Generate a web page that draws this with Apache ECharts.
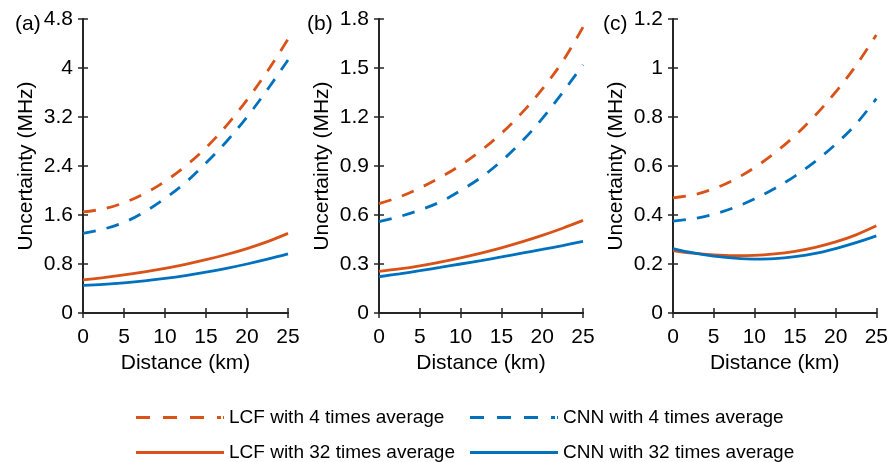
<!DOCTYPE html>
<html>
<head>
<meta charset="utf-8">
<script src="https://cdn.jsdelivr.net/npm/echarts@6/dist/echarts.min.js"></script>
<style>
html,body{margin:0;padding:0;background:#fff;}
#chart{width:891px;height:462px;}
</style>
</head>
<body>
<div id="chart"></div>
<script>
// ---- data ----
const distance = [0, 2.5, 5, 7.5, 10, 12.5, 15, 17.5, 20, 22.5, 25];

const panelLabels = ['(a)', '(b)', '(c)'];
const yMax = [4.8, 1.8, 1.2];
const yStep = [0.8, 0.3, 0.2];
const xTicks = [0, 5, 10, 15, 20, 25];

const seriesNames = ['LCF with 4 times average', 'CNN with 4 times average', 'LCF with 32 times average', 'CNN with 32 times average'];

// panel (a)
const lcf4A  = [1.65, 1.70, 1.80, 1.95, 2.15, 2.40, 2.70, 3.06, 3.48, 3.95, 4.47];
const cnn4A  = [1.30, 1.37, 1.48, 1.65, 1.87, 2.13, 2.45, 2.80, 3.20, 3.65, 4.13];
const lcf32A = [0.54, 0.578, 0.621, 0.671, 0.729, 0.795, 0.87, 0.955, 1.052, 1.165, 1.30];
const cnn32A = [0.45, 0.468, 0.493, 0.525, 0.565, 0.612, 0.667, 0.730, 0.800, 0.878, 0.965];

// panel (b)
const lcf4B  = [0.67, 0.71, 0.765, 0.83, 0.905, 0.995, 1.10, 1.225, 1.37, 1.54, 1.75];
const cnn4B  = [0.56, 0.59, 0.63, 0.68, 0.75, 0.83, 0.93, 1.05, 1.19, 1.35, 1.52];
const lcf32B = [0.255, 0.270, 0.289, 0.312, 0.338, 0.367, 0.399, 0.435, 0.475, 0.519, 0.567];
const cnn32B = [0.222, 0.240, 0.259, 0.279, 0.300, 0.321, 0.343, 0.366, 0.389, 0.413, 0.438];

// panel (c)
const lcf4C  = [0.47, 0.482, 0.507, 0.544, 0.593, 0.653, 0.724, 0.807, 0.902, 1.010, 1.135];
const cnn4C  = [0.375, 0.385, 0.403, 0.43, 0.465, 0.508, 0.559, 0.619, 0.689, 0.771, 0.875];
const lcf32C = [0.255, 0.244, 0.237, 0.234, 0.235, 0.241, 0.252, 0.268, 0.290, 0.319, 0.356];
const cnn32C = [0.263, 0.245, 0.232, 0.224, 0.22, 0.222, 0.23, 0.243, 0.263, 0.287, 0.315];

const panels = [
  [lcf4A, cnn4A, lcf32A, cnn32A],
  [lcf4B, cnn4B, lcf32B, cnn32B],
  [lcf4C, cnn4C, lcf32C, cnn32C]
];

// ---- styling ----
const ORANGE = '#D95319';
const BLUE = '#0072BD';
const FONT = '"Liberation Sans", Arial, sans-serif';
const AX = '#262626';
const seriesColors = [ORANGE, BLUE, ORANGE, BLUE];
const seriesDash = [[13, 11], [13, 11], 'solid', 'solid'];
const DASH_ICON = 'path://M0,0h14v3h-14z M27,0h14v3h-14z M54,0h14v3h-14z M81,0h4v3h-4z M87,0h1v3h-1z';
const SOLID_ICON = 'path://M0,0h88v3h-88z';
const legendIcons = [DASH_ICON, DASH_ICON, SOLID_ICON, SOLID_ICON];

const gridBoxes = [
  {left: 83, top: 19, width: 205, height: 294},
  {left: 379, top: 19, width: 204, height: 294},
  {left: 673, top: 19, width: 205, height: 294}
];
const labelX = [10, 302, 598];

const grid = gridBoxes.map(g => Object.assign({containLabel: false}, g));
const xAxis = [];
const yAxis = [];
const series = [];
const title = [];

gridBoxes.forEach((g, p) => {
  const axLine = {show: true, lineStyle: {color: AX, width: 2}};
  const tick = {show: true, inside: true, length: 5, lineStyle: {color: AX, width: 1.5}};
  xAxis.push({
    type: 'value', gridIndex: p, min: 0, max: 25, interval: 5, position: 'bottom',
    axisLine: axLine, axisTick: tick, splitLine: {show: false},
    axisLabel: {color: '#000', fontSize: 21, fontFamily: FONT, margin: 14},
    name: 'Distance (km)', nameLocation: 'middle', nameGap: 39,
    nameTextStyle: {color: '#000', fontSize: 21, fontFamily: FONT}
  });
  xAxis.push({
    type: 'value', gridIndex: p, min: 0, max: 25, interval: 5, position: 'top',
    axisLine: axLine, axisTick: tick, splitLine: {show: false},
    axisLabel: {show: false}
  });
  yAxis.push({
    type: 'value', gridIndex: p, min: 0, max: yMax[p], interval: yStep[p], position: 'left',
    axisLine: axLine, axisTick: tick, splitLine: {show: false},
    axisLabel: {color: '#000', fontSize: 21, fontFamily: FONT, margin: 10},
    name: 'Uncertainty (MHz)', nameLocation: 'middle', nameGap: 46,
    nameTextStyle: {color: '#000', fontSize: 21, fontFamily: FONT}
  });
  yAxis.push({
    type: 'value', gridIndex: p, min: 0, max: yMax[p], interval: yStep[p], position: 'right',
    axisLine: axLine, axisTick: tick, splitLine: {show: false},
    axisLabel: {show: false}
  });
  title.push({
    text: panelLabels[p], left: labelX[p], top: 9,
    textStyle: {color: '#000', fontSize: 21, fontWeight: 'normal', fontFamily: FONT}
  });
  panels[p].forEach((arr, s) => {
    series.push({
      name: seriesNames[s], type: 'line', xAxisIndex: p * 2, yAxisIndex: p * 2,
      data: distance.map((d, i) => [d, arr[i]]),
      smooth: 0.35, symbol: 'none', showSymbol: false, silent: true,
      lineStyle: {color: seriesColors[s], width: 2.8, type: seriesDash[s]},
      itemStyle: {color: seriesColors[s]},
      z: 3
    });
  });
});

const legendPos = [
  {left: 131, top: 403},
  {left: 465, top: 403},
  {left: 131, top: 438},
  {left: 465, top: 438}
];
const legend = seriesNames.map((n, i) => ({
  data: [{name: n, icon: legendIcons[i]}], left: legendPos[i].left, top: legendPos[i].top,
  itemWidth: 88, itemHeight: 3, itemGap: 7, selectedMode: false,
  itemStyle: {color: seriesColors[i], borderWidth: 0},
  textStyle: {color: '#000', fontSize: 19, fontFamily: FONT}
}));

const chart = echarts.init(document.getElementById('chart'), null, {renderer: 'canvas'});
chart.setOption({
  animation: false,
  backgroundColor: '#fff',
  title, grid, xAxis, yAxis, series, legend
});
</script>
</body>
</html>
